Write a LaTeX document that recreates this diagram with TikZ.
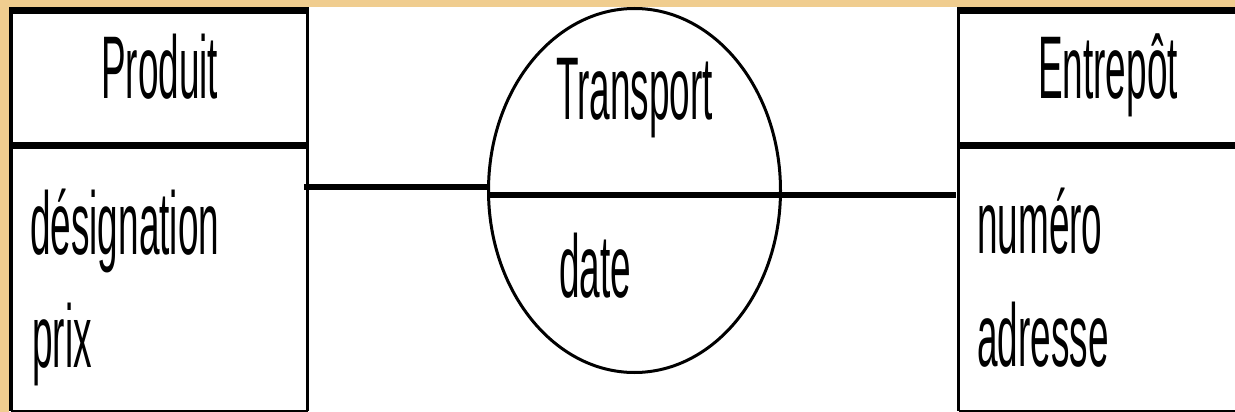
\documentclass[tikz,border=0pt]{standalone}
\usepackage{fontspec}
\setmainfont{Liberation Sans}
\usepackage{graphicx}
\usetikzlibrary{shapes.geometric}
\definecolor{tanbg}{RGB}{240,205,143}
\newcommand{\cond}[1]{\scalebox{0.415}[1]{#1}}
\begin{document}
\begin{tikzpicture}[x=1pt,y=-1pt,
  lbl/.style={anchor=base west, inner sep=0pt, font=\fontsize{89}{89}\selectfont},
  boxarea/.style={rectangle, inner sep=0pt, anchor=north west},
  thickside/.style={line width=7pt},
  thinside/.style={line width=3pt},
  conn/.style={line width=6pt},
  relshape/.style={ellipse, draw, line width=3pt, inner sep=0pt, minimum width=292pt, minimum height=364pt}]
\useasboundingbox (0,0) rectangle (1235,412);
\fill[white] (0,0) rectangle (1235,412);
\fill[tanbg] (0,0) rectangle (1235,7);
\fill[tanbg] (0,0) rectangle (9,412);
% boxes
\node[boxarea, minimum width=296.5pt, minimum height=400pt] (prod) at (11,10.5) {};
\node[boxarea, minimum width=290pt, minimum height=400pt] (ent) at (958.5,10.5) {};
% Produit box sides
\draw[line width=4pt] (prod.north west) -- (prod.south west);
\draw[thinside] (prod.north east) -- (prod.south east);
\draw[thickside] ([xshift=-2pt]prod.north west) -- ([xshift=1.5pt]prod.north east);
\draw[line width=1.5pt] (prod.south west) -- (prod.south east);
\coordinate (pdl) at ([yshift=-135pt]prod.north west);
\coordinate (pdr) at ([yshift=-135pt]prod.north east);
\draw[thickside] (pdl) -- (pdr);
% Entrepot box sides
\draw[thinside] (ent.north west) -- (ent.south west);
\draw[thickside] ([xshift=-1.5pt]ent.north west) -- (ent.north east);
\draw[line width=1.5pt] (ent.south west) -- (ent.south east);
\coordinate (edl) at ([yshift=-135pt]ent.north west);
\coordinate (edr) at ([yshift=-135pt]ent.north east);
\draw[thickside] (edl) -- (edr);
% relationship
\node[relshape] (rel) at (634.5,190.5) {};
\coordinate (l1) at (304,187);
\coordinate (m1) at (956,195);
\draw[conn] (l1) -- (l1 -| rel.west);
\draw[conn] (m1 -| rel.west) -- (m1);
% texts
\node[lbl] (tprod) at (101,99) {\cond{Produit}};
\node[lbl] (tdes) at (30,254) {\cond{désignation}};
\node[lbl] (tprix) at (32,367) {\cond{prix}};
\node[lbl] (ttr) at (556,119) {\cond{Transport}};
\node[lbl] (tdate) at (559,297) {\cond{date}};
\node[lbl] (tent) at (1038,99) {\cond{Entrepôt}};
\node[lbl] (tnum) at (977,253) {\cond{numéro}};
\node[lbl] (tadr) at (977,366) {\cond{adresse}};
\end{tikzpicture}
\end{document}
